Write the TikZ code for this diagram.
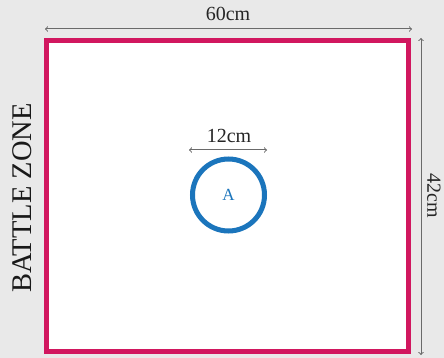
\documentclass[tikz,border=0pt]{standalone}
\usepackage{fontspec}
\setmainfont{Liberation Serif}
\usepackage{tikz}
\definecolor{zonered}{HTML}{D1175F}
\definecolor{markblue}{HTML}{1B75BC}
\definecolor{dimgray}{HTML}{6A6A6A}
\definecolor{bggray}{HTML}{E9E9E9}

\begin{document}
\begin{tikzpicture}[x=1pt, y=-1pt,
    dimline/.style={draw=dimgray, line width=1pt, <->, >=to},
    dimtext/.style={font=\fontsize{20}{24}\selectfont, text=black!85, inner sep=0pt}]
        % 背景
        \fill[bggray] (0,0) rectangle (444,358);
        \useasboundingbox (0,0) rectangle (444,358);

        % ノードの定義
        \node[draw=zonered, fill=white, line width=5pt, minimum width=362pt, minimum height=311pt, inner sep=0pt, outer sep=0pt] (zone) at (227.5,196) {};
        \node[circle, draw=markblue, line width=5pt, minimum size=72pt, inner sep=0pt, text=markblue, font=\fontsize{17}{19}\selectfont] (A) at (228.5,195) {A};
        \node[rotate=90, inner sep=0pt, text=black!90, font=\fontsize{28.5}{32}\selectfont] (label) at (22,198) {BATTLE ZONE};

        % 寸法線
        \coordinate (topL) at (45,29);
        \coordinate (topR) at (412,29);
        \coordinate (sideT) at (421,38);
        \coordinate (sideB) at (421,355);
        \coordinate (circL) at (189,150);
        \coordinate (circR) at (267,150);
        \draw[dimline] (topL) -- (topR);
        \draw[dimline] (sideT) -- (sideB);
        \draw[dimline] (circL) -- (circR);
        \node[dimtext] (width) at (228,14) {60cm};
        \node[dimtext, rotate=-90] (height) at (434,196) {42cm};
        \node[dimtext] (diam) at (229,136) {12cm};
    \end{tikzpicture}
\end{document}
